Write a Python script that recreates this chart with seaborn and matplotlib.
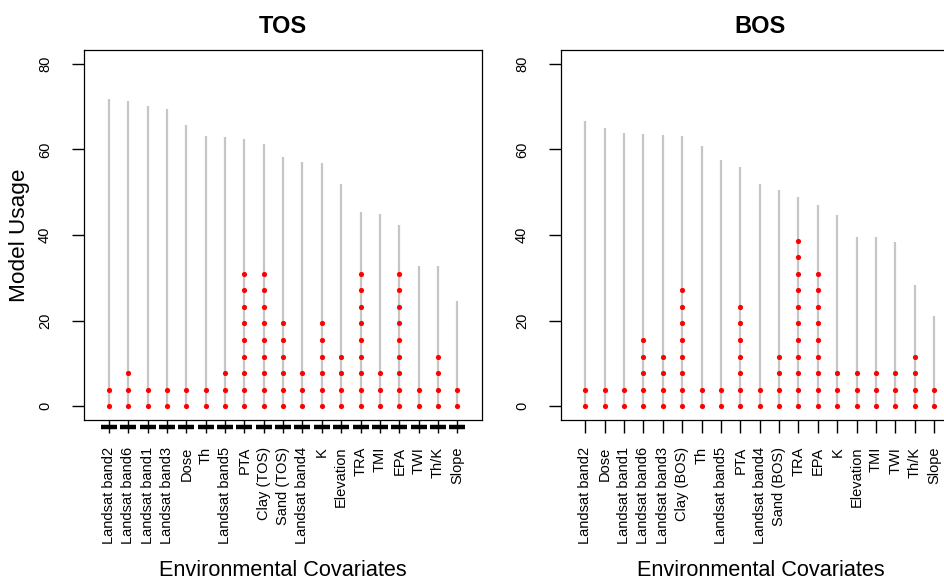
import numpy as np
import pandas as pd
import matplotlib
matplotlib.use("Agg")
import matplotlib.pyplot as plt
import seaborn as sns

# ---------------- data ----------------
tos_covariates = ["Landsat band2", "Landsat band6", "Landsat band1", "Landsat band3",
                  "Dose", "Th", "Landsat band5", "PTA", "Clay (TOS)", "Sand (TOS)",
                  "Landsat band4", "K", "Elevation", "TRA", "TMI", "EPA", "TWI",
                  "Th/K", "Slope"]
tos_usage = [71.8, 71.2, 70.1, 69.5, 65.6, 63.1, 62.9, 62.5, 61.2, 58.3,
             57.1, 56.9, 52.0, 45.3, 44.8, 42.3, 32.8, 32.8, 24.5]
tos_dot_counts = [2, 3, 2, 2, 2, 2, 3, 9, 9, 6, 3, 6, 4, 9, 3, 9, 2, 4, 2]

bos_covariates = ["Landsat band2", "Dose", "Landsat band1", "Landsat band6",
                  "Landsat band3", "Clay (BOS)", "Th", "Landsat band5", "PTA",
                  "Landsat band4", "Sand (BOS)", "TRA", "EPA", "K", "Elevation",
                  "TMI", "TWI", "Th/K", "Slope"]
bos_usage = [66.6, 65.0, 63.9, 63.6, 63.3, 63.1, 60.7, 57.6, 55.8, 51.9,
             50.4, 48.9, 47.0, 44.6, 39.6, 39.6, 38.3, 28.4, 21.0]
bos_dot_counts = [2, 2, 2, 5, 4, 8, 2, 2, 7, 2, 4, 11, 9, 3, 3, 3, 3, 4, 2]

dot_step = 3.87
y_ticks = [0, 20, 40, 60, 80]

# ---------------- style ----------------
sns.set_theme(style="ticks")
plt.rcParams['font.family'] = ['Liberation Sans', 'DejaVu Sans']
plt.rcParams['axes.edgecolor'] = 'black'
plt.rcParams['xtick.color'] = 'black'
plt.rcParams['ytick.color'] = 'black'
plt.rcParams['text.color'] = 'black'
plt.rcParams['axes.labelcolor'] = 'black'
plt.rcParams['axes.titlecolor'] = 'black'

W, H = 945, 581
fig = plt.figure(figsize=(W / 100, H / 100), dpi=100)
ax1 = fig.add_axes([84 / W, 1 - 420 / H, (481.7 - 84) / W, 370 / H])
ax2 = fig.add_axes([561 / W, 1 - 420 / H, (960 - 561) / W, 370 / H])


def draw(ax, cov, usage, counts, title, xlim, ylabel=None, plus_marks=False):
    n = len(cov)
    pos = np.arange(n)
    lines = pd.DataFrame({"pos": pos, "usage": usage})
    ax.vlines(lines["pos"], 0, lines["usage"], color="#c6c6c6", lw=1.6, zorder=1)
    rows = [(p, k * dot_step) for p, c in zip(pos, counts) for k in range(c)]
    dots = pd.DataFrame(rows, columns=["pos", "val"])
    sns.scatterplot(data=dots, x="pos", y="val", ax=ax, color="red", s=14,
                    linewidth=0, zorder=3, legend=False)
    ax.set_xlim(*xlim)
    ax.set_ylim(-3.2, 83.2)
    ax.set_xticks(pos)
    ax.set_xticklabels(cov)
    ax.set_yticks(y_ticks)
    ax.set_yticklabels([str(v) for v in y_ticks])
    ax.tick_params(axis="x", length=9.4, width=1.0, pad=10, labelsize=10.5,
                   labelrotation=90, labelcolor="black")
    ax.tick_params(axis="y", length=9, width=1.0, pad=14, labelsize=10.5,
                   labelrotation=90, labelcolor="black")
    for lab in ax.get_yticklabels():
        lab.set_verticalalignment("center")
    for s in ax.spines.values():
        s.set_linewidth(0.9)
        s.set_color("black")
    ax.set_title(title, fontsize=17, fontweight="bold", pad=12, color="black")
    ax.set_xlabel("Environmental Covariates", fontsize=15.6, color="black")
    ax.xaxis.set_label_coords(0.5, -0.378)
    if ylabel:
        ax.set_ylabel(ylabel, fontsize=16.2, color="black")
        ax.yaxis.set_label_coords(-0.135, 0.5)
    else:
        ax.set_ylabel("")
    if plus_marks:
        ax.plot(pos, np.full(n, -4.8), ls="none", marker="_", ms=11, mew=3.2,
                color="black", clip_on=False, zorder=5)


draw(ax1, tos_covariates, tos_usage, tos_dot_counts, "TOS", (-1.29, 19.26),
     ylabel="Model Usage", plus_marks=True)
draw(ax2, bos_covariates, bos_usage, bos_dot_counts, "BOS", (-1.25, 19.33))

fig.savefig("out.png", dpi=100)
